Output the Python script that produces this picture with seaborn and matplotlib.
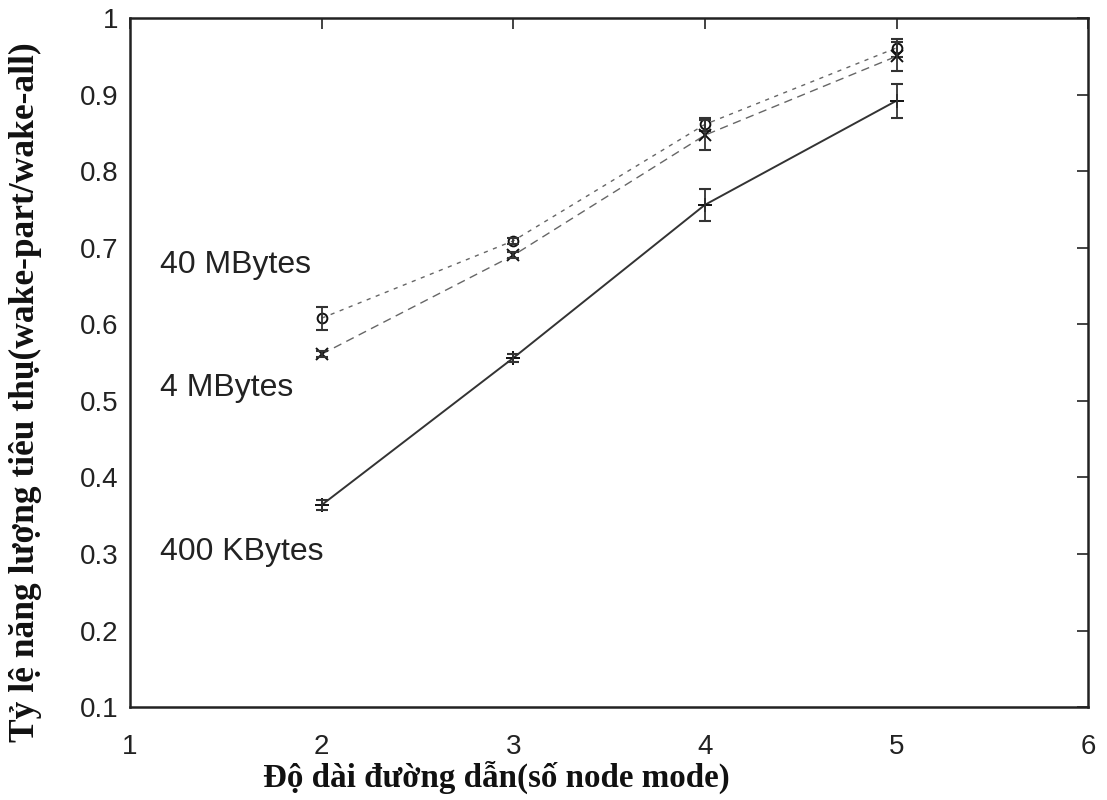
import matplotlib
matplotlib.use("Agg")
import matplotlib.pyplot as plt
import seaborn as sns
import pandas as pd
import numpy as np

# Data
path_len = [2, 3, 4, 5]
mb40 = [0.608, 0.709, 0.861, 0.961]
mb40_err = [0.015, 0.004, 0.008, 0.012]
mb4 = [0.561, 0.690, 0.847, 0.950]
mb4_err = [0.004, 0.004, 0.020, 0.019]
kb400 = [0.364, 0.556, 0.756, 0.892]
kb400_err = [0.007, 0.005, 0.021, 0.022]
series_names = ["40 MBytes", "4 MBytes", "400 KBytes"]
x_ticks = [1, 2, 3, 4, 5, 6]
y_ticks = [0.1, 0.2, 0.3, 0.4, 0.5, 0.6, 0.7, 0.8, 0.9, 1.0]
y_tick_labels = ["0.1", "0.2", "0.3", "0.4", "0.5", "0.6", "0.7", "0.8", "0.9", "1"]

sns.set_theme(style="white")
plt.rcParams['font.family'] = ['Liberation Sans', 'DejaVu Sans']

df = pd.DataFrame({
    "x": path_len * 3,
    "y": mb40 + mb4 + kb400,
    "err": mb40_err + mb4_err + kb400_err,
    "series": [series_names[0]] * 4 + [series_names[1]] * 4 + [series_names[2]] * 4,
})

fig = plt.figure(figsize=(11.07, 8), dpi=100)
ax = fig.add_axes([0.1174, 0.116, 0.8656, 0.8615])

styles = {
    "40 MBytes": dict(color="#666666", ls=(0, (3, 4)), marker="o", lw=1.0, ms=7),
    "4 MBytes": dict(color="#666666", ls=(0, (6, 4)), marker="x", lw=1.0, ms=9),
    "400 KBytes": dict(color="#333333", ls="-", marker="+", lw=1.4, ms=10),
}

for name in series_names:
    sub = df[df.series == name]
    st = styles[name]
    sns.lineplot(data=sub, x="x", y="y", ax=ax, color=st["color"], linestyle=st["ls"],
                 lw=st["lw"], marker=st["marker"], markersize=st["ms"],
                 markerfacecolor="none", markeredgecolor="#111111", markeredgewidth=1.4)
    ax.errorbar(sub.x, sub.y, yerr=sub.err, fmt="none", ecolor="#333333",
                elinewidth=1.3, capsize=4, capthick=1.5)

ax.set_xlim(1, 6)
ax.set_ylim(0.1, 1.0)
ax.set_xticks(x_ticks)
ax.set_xticklabels([str(t) for t in x_ticks])
ax.set_yticks(y_ticks)
ax.set_yticklabels(y_tick_labels)
ax.tick_params(direction="in", length=8, width=1.2, top=True, right=True,
               labelsize=20, colors="#222222")
ax.tick_params(axis="y", pad=8)
ax.tick_params(axis="x", pad=19)
for s in ax.spines.values():
    s.set_color("#222222")
    s.set_linewidth(1.8)

# series labels
ax.text(1.155, 0.678, "40 MBytes", fontsize=23, va="center", ha="left", color="#222222")
ax.text(1.155, 0.517, "4 MBytes", fontsize=23, va="center", ha="left", color="#222222")
ax.text(1.155, 0.303, "400 KBytes", fontsize=23, va="center", ha="left", color="#222222")

ax.set_xlabel("Độ dài đường dẫn(số node mode)", fontsize=23.8, fontweight="bold",
              family=["Liberation Serif", "DejaVu Serif"], color="#111111")
ax.set_ylabel("Tỷ lệ năng lượng tiêu thụ(wake-part/wake-all)", fontsize=25.5,
              fontweight="bold", family=["Liberation Serif", "DejaVu Serif"], color="#111111")
ax.xaxis.set_label_coords(0.382, -0.077)
ax.yaxis.set_label_coords(-0.092, 0.457)

fig.savefig("out.png", dpi=100)
